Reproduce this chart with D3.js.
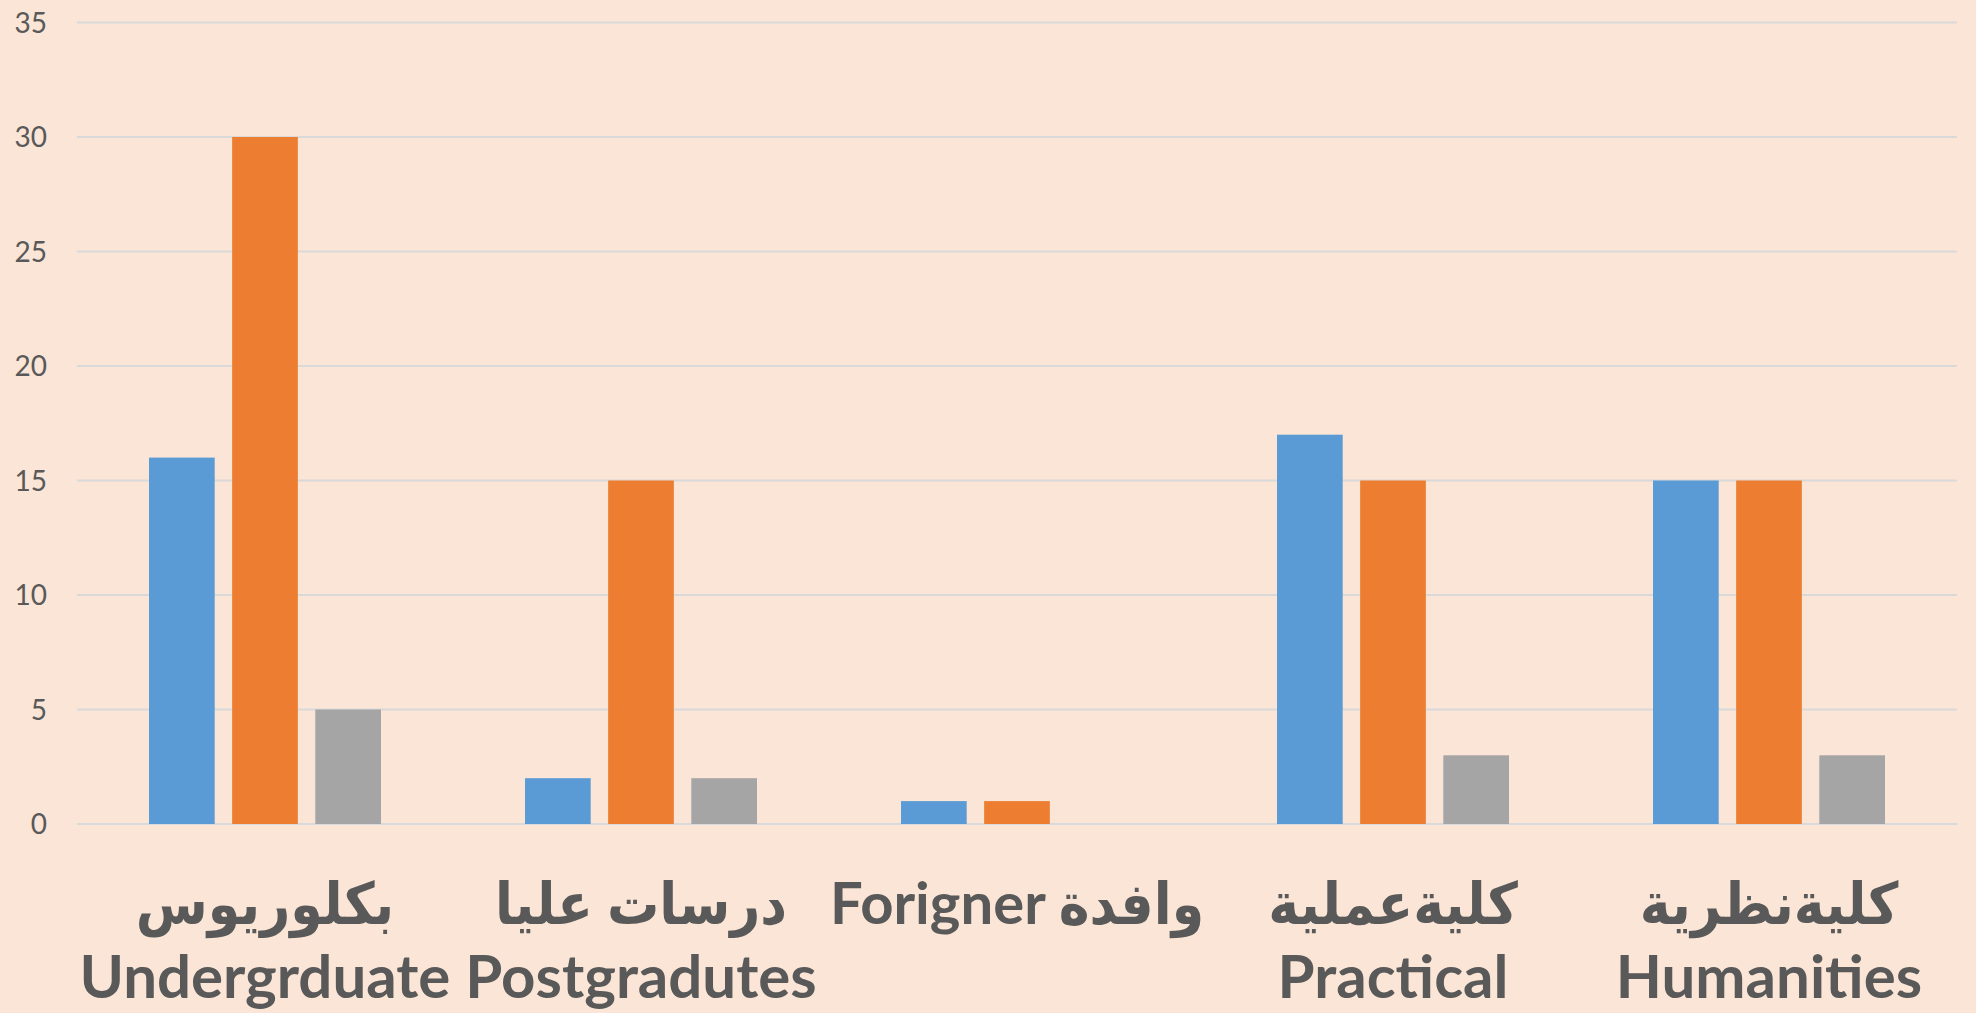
<!DOCTYPE html>
<html>
<head>
<meta charset="utf-8">
<script src="https://cdn.jsdelivr.net/npm/d3@7"></script>
<style>
  html, body { margin: 0; padding: 0; background: #fbe5d6; }
  svg { display: block; }
  .tick text { font-family: Lato, "Open Sans", sans-serif; fill: #595959; }
  .cat { font-family: Lato, "DejaVu Sans Condensed", "DejaVu Sans", sans-serif; font-weight: bold; fill: #595959; }
</style>
</head>
<body>
<div id="chart"></div>
<script>
// categories, two label lines each
const categories = ["UG", "PG", "FG", "PR", "HU"];
const labelLine1 = ["بكلوريوس", "درسات عليا", "Forigner وافدة", "كليةعملية", "كليةنظرية"];
const labelLine2 = ["Undergrduate", "Postgradutes", "", "Practical", "Humanities"];

const seriesNames = ["s1", "s2", "s3"];
const series1 = [16, 2, 1, 17, 15];
const series2 = [30, 15, 1, 15, 15];
const series3 = [5, 2, 0, 3, 3];
const colors = ["#5b9bd5", "#ed7d31", "#a5a5a5"];

const yTicks = [0, 5, 10, 15, 20, 25, 30, 35];

const W = 1976, H = 1013;
const margin = { top: 22.5, right: 19, bottom: 189, left: 77 };
const width = W - margin.left - margin.right;
const height = H - margin.top - margin.bottom;

const rows = categories.map((c, i) => ({
  cat: c,
  vals: [series1[i], series2[i], series3[i]]
}));

const svg = d3.select("#chart").append("svg")
  .attr("width", W)
  .attr("height", H);

svg.append("rect").attr("width", W).attr("height", H).attr("fill", "#fbe5d6");

const g = svg.append("g")
  .attr("transform", "translate(" + margin.left + "," + margin.top + ")");

const x0 = d3.scaleBand().domain(categories).range([0, width]).padding(0);
const groupPad = 72;
const x1 = d3.scaleBand().domain(seriesNames)
  .range([groupPad, x0.bandwidth() - groupPad])
  .paddingInner(0.21).paddingOuter(0);
const y = d3.scaleLinear().domain([0, 35]).range([height, 0]);

// gridlines
g.append("g").selectAll("line")
  .data(yTicks)
  .enter().append("line")
    .attr("x1", 0)
    .attr("x2", width)
    .attr("y1", d => y(d))
    .attr("y2", d => y(d))
    .attr("stroke", "#d9d9d9")
    .attr("stroke-width", 2);

// y axis labels
const yAxis = d3.axisLeft(y).tickValues(yTicks).tickSize(0).tickPadding(30);
const ya = g.append("g").attr("class", "y axis").call(yAxis);
ya.select(".domain").remove();
ya.selectAll("text").attr("font-size", 28).attr("dy", "0.35em");

// bars
const groups = g.append("g").selectAll("g")
  .data(rows)
  .enter().append("g")
    .attr("transform", d => "translate(" + x0(d.cat) + ",0)");

groups.selectAll("rect")
  .data(d => d.vals.map((v, i) => ({ key: seriesNames[i], v: v, i: i })))
  .enter().append("rect")
    .attr("x", d => x1(d.key))
    .attr("width", x1.bandwidth())
    .attr("y", d => y(d.v))
    .attr("height", d => height - y(d.v))
    .attr("fill", d => colors[d.i]);

// category labels
const labels = g.append("g").selectAll("g")
  .data(categories)
  .enter().append("g")
    .attr("transform", d => "translate(" + (x0(d) + x0.bandwidth() / 2) + "," + height + ")");

labels.append("text")
  .attr("class", "cat")
  .attr("text-anchor", "middle")
  .attr("y", 100)
  .attr("font-size", 58)
  .text((d, i) => labelLine1[i]);

labels.append("text")
  .attr("class", "cat")
  .attr("text-anchor", "middle")
  .attr("y", 174)
  .attr("font-size", 60)
  .text((d, i) => labelLine2[i]);
</script>
</body>
</html>
